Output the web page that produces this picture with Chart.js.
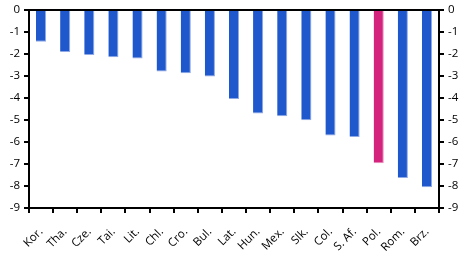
<!DOCTYPE html>
<html>
<head>
<meta charset="utf-8">
<script src="https://cdn.jsdelivr.net/npm/chart.js@4"></script>
<style>
  html, body { margin: 0; padding: 0; background: #fff; }
  #wrap { width: 471px; height: 255px; }
</style>
</head>
<body>
<div id="wrap"><canvas id="chart"></canvas></div>
<script>
    const categories = ["Kor.", "Tha.", "Cze.", "Tai.", "Lit.", "Chl.", "Cro.", "Bul.", "Lat.", "Hun.", "Mex.", "Slk.", "Col.", "S. Af.", "Pol.", "Rom.", "Brz."];
    const values = [-1.44, -1.91, -2.05, -2.15, -2.2, -2.79, -2.88, -3.02, -4.05, -4.7, -4.83, -5.01, -5.71, -5.77, -6.97, -7.64, -8.06];
    const highlight = "Pol.";
    const yMin = -9, yMax = 0;

    const blue = "#1f57cc";
    const pink = "#d4237d";
    const tickFont = { family: "'Open Sans', 'DejaVu Sans', sans-serif", size: 11.5 };

    function yAxis(pos, w) {
        return {
            position: pos,
            min: yMin, max: yMax,
            ticks: { stepSize: 1, color: "#000", font: tickFont, padding: 9 },
            grid: {
                drawOnChartArea: pos === "left",
                color: ctx => (ctx.tick && ctx.tick.value === 0 && pos === "left") ? "#000" : "rgba(0,0,0,0)",
                lineWidth: 2,
                drawTicks: false
            },
            border: { display: true, color: "#000", width: 2 },
            afterFit: s => { s.width = w; s.paddingTop = 0; s.paddingBottom = 0; }
        };
    }

    // tick marks drawn separately so that only they are black
    const tickMarks = {
        id: "tickMarks",
        afterDraw(chart) {
            const c = chart.ctx, a = chart.chartArea;
            c.save();
            c.strokeStyle = "#000";
            c.lineWidth = 2;
            c.beginPath();
            for (let v = yMin; v <= yMax; v++) {
                const y = Math.round(chart.scales.y.getPixelForValue(v));
                c.moveTo(a.left - 5, y); c.lineTo(a.left, y);
                c.moveTo(a.right, y); c.lineTo(a.right + 5, y);
            }
            const x = chart.scales.x;
            for (let i = 0; i <= categories.length; i++) {
                const px = Math.round(x.getPixelForValue(i - 0.5));
                c.moveTo(px, a.bottom); c.lineTo(px, a.bottom + 5);
            }
            c.stroke();
            c.restore();
        }
    };

    new Chart(document.getElementById("chart"), {
        type: "bar",
        data: {
            labels: categories,
            datasets: [{
                data: values,
                backgroundColor: categories.map(c => c === highlight ? pink : blue),
                borderColor: categories.map(c => c === highlight ? "#e88bbb" : "#8fa9e6"),
                borderWidth: { left: 0, right: 1, bottom: 1, top: 0 },
                borderSkipped: false,
                barPercentage: 0.42,
                categoryPercentage: 1
            }]
        },
        options: {
            responsive: true,
            maintainAspectRatio: false,
            animation: false,
            layout: { padding: { top: 10, right: 0, left: 0, bottom: 0 } },
            plugins: { legend: { display: false }, tooltip: { enabled: false } },
            scales: {
                x: {
                    offset: true,
                    ticks: { color: "#000", font: tickFont, maxRotation: 45, minRotation: 45, padding: 9 },
                    grid: { display: false },
                    border: { display: true, color: "#000", width: 2 },
                    afterFit: s => { s.height = 47; s.paddingLeft = 0; s.paddingRight = 0; }
                },
                y: yAxis("left", 29),
                y2: yAxis("right", 32)
            }
        },
        plugins: [tickMarks]
    });
</script>
</body>
</html>
